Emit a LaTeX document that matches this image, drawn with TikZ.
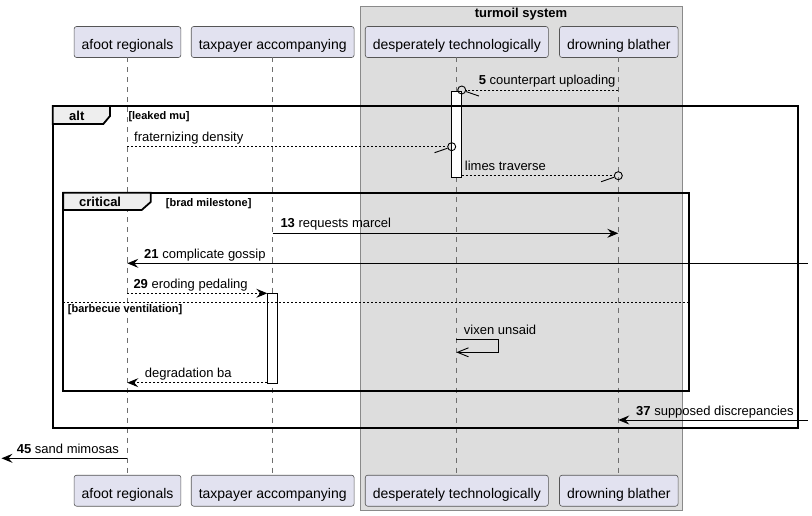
\documentclass[tikz,border=0pt]{standalone}
\usepackage{fontspec}
\setmainfont{Liberation Sans}
\usetikzlibrary{arrows.meta}
\definecolor{partfill}{HTML}{E2E2F0}
\definecolor{partborder}{HTML}{555555}
\definecolor{boxfill}{HTML}{DDDDDD}
\definecolor{boxborder}{HTML}{8A8A8A}
\definecolor{tabfill}{HTML}{EEEEEE}
\definecolor{lifecol}{HTML}{6E6E6E}
\begin{document}
\begin{tikzpicture}[x=1pt,y=-1pt,
  part/.style={draw=partborder, line width=0.6pt, fill=partfill, rounded corners=2.5pt,
    minimum height=31pt, inner xsep=7.5pt, inner ysep=0pt,
    text height=17.6pt, text depth=3pt, font=\fontsize{14}{16}\selectfont},
  lifeline/.style={draw=lifecol, line width=0.6pt, dash pattern=on 5pt off 5pt},
  msgtext/.style={anchor=base west, inner sep=0pt, font=\fontsize{13}{15}\selectfont},
  grouplabel/.style={anchor=base west, inner sep=0pt, font=\fontsize{11}{13}\selectfont\bfseries},
  tabtext/.style={anchor=base west, inner sep=0pt, font=\fontsize{13}{15}\selectfont\bfseries},
  smsg/.style={draw=black, line width=0.9pt},
  dmsg/.style={draw=black, line width=0.9pt, dash pattern=on 2pt off 2pt},
  fullarrow/.style={-{Stealth[length=11pt,width=9pt,inset=4pt]}},
  openarrow/.style={-{Straight Barb[length=11pt,width=9pt,line width=0.9pt]}},
  endcirc/.style={circle, draw=black, line width=0.9pt, inner sep=0pt, minimum size=8pt},
  actbar/.style={draw=black, line width=0.9pt, fill=white, minimum width=10.4pt, inner sep=0pt},
  framebox/.style={draw=black, line width=1.8pt},
  tabbox/.style={draw=black, line width=1.8pt, fill=tabfill},
  sepline/.style={draw=black, line width=0.9pt, dash pattern=on 2pt off 2pt}
]
\useasboundingbox (0,0) rectangle (812,516);

% turmoil system box
\draw[fill=boxfill, draw=boxborder, line width=0.8pt] (360.3,6) rectangle (682.3,510.7);
\node[anchor=base, inner sep=0pt, font=\fontsize{13}{15}\selectfont\bfseries] (boxtitle) at (521,17.3) {turmoil system};

% participants
\node[part] (pA) at (127.5,42) {afoot regionals};
\node[part] (pB) at (272.7,42) {taxpayer accompanying};
\node[part] (pC) at (456.8,42) {desperately technologically};
\node[part] (pD) at (618.8,42) {drowning blather};
\node[part] (pAb) at (127.5,490.7) {afoot regionals};
\node[part] (pBb) at (272.7,490.7) {taxpayer accompanying};
\node[part] (pCb) at (456.8,490.7) {desperately technologically};
\node[part] (pDb) at (618.8,490.7) {drowning blather};

% lifelines
\draw[lifeline] (127.3,57.5) -- (127.3,475.3);
\draw[lifeline] (272.7,57.5) -- (272.7,475.3);
\draw[lifeline] (456.3,57.5) -- (456.3,475.3);
\draw[lifeline] (618.3,57.5) -- (618.3,475.3);

% activation bars
\node[actbar, minimum height=86pt] (act1) at (456.5,134) {};
\node[actbar, minimum height=90pt] (act2) at (272.5,338.3) {};

% alt frame
\draw[framebox] (52.7,106) rectangle (797.7,427.7);
\draw[tabbox] (52.7,106) -- (110,106) -- (110,116) -- (103.3,124) -- (52.7,124) -- cycle;
\node[tabtext] (altlbl) at (69,120.5) {alt};
\node[grouplabel] (altcond) at (128.3,120) {[leaked mu]};

% critical frame
\draw[framebox] (63.3,192.7) rectangle (688.7,391.3);
\draw[tabbox] (63.3,192.7) -- (150.7,192.7) -- (150.7,202) -- (141.7,210) -- (63.3,210) -- cycle;
\node[tabtext] (critlbl) at (79,206.5) {critical};
\node[grouplabel] (critcond) at (165.7,206.5) {[brad milestone]};
\draw[sepline] (63.3,302.3) -- (688.7,302.3);
\node[grouplabel] (elsecond) at (67.7,312) {[barbecue ventilation]};

% message 5
\coordinate (m5s) at (618.3,90);
\node[endcirc] (c5) at (461.7,90) {};
\draw[dmsg] (m5s) -- (c5);
\draw[smsg] (c5.-20) -- ++(13,4.5);
\node[msgtext] (t5) at (478.7,85) {\textbf{5} counterpart uploading};

% fraternizing density
\coordinate (mfs) at (127.3,146.7);
\node[endcirc] (cf) at (451.7,146.7) {};
\draw[dmsg] (mfs) -- (cf);
\draw[smsg] (cf.200) -- ++(-13,4.5);
\node[msgtext] (tf) at (134,141.7) {fraternizing density};

% limes traverse
\coordinate (mls) at (461.7,175.7);
\node[endcirc] (cl) at (618.3,175.7) {};
\draw[dmsg] (mls) -- (cl);
\draw[smsg] (cl.200) -- ++(-13,4.5);
\node[msgtext] (tl) at (464.7,170.7) {limes traverse};

% 13 requests marcel
\coordinate (m13s) at (272.7,233.3);
\coordinate (m13e) at (618.3,233.3);
\draw[smsg, fullarrow] (m13s) -- (m13e);
\node[msgtext] (t13) at (280.3,228) {\textbf{13} requests marcel};

% 21 complicate gossip
\coordinate (m21s) at (807.7,263.3);
\coordinate (m21e) at (127.3,263.3);
\draw[smsg, fullarrow] (m21s) -- (m21e);
\node[msgtext] (t21) at (144,258.3) {\textbf{21} complicate gossip};

% 29 eroding pedaling
\coordinate (m29s) at (127.3,293.3);
\coordinate (m29e) at (267.3,293.3);
\draw[dmsg, fullarrow] (m29s) -- (m29e);
\node[msgtext] (t29) at (133.3,288.3) {\textbf{29} eroding pedaling};

% vixen unsaid (self)
\coordinate (mvs) at (456.3,339.3);
\coordinate (mve) at (456.3,352.3);
\draw[smsg, openarrow] (mvs) -- (498.7,339.3) -- (498.7,352.3) -- (mve);
\node[msgtext] (tv) at (463.7,334.3) {vixen unsaid};

% degradation ba
\coordinate (mds) at (267.3,382.7);
\coordinate (mde) at (127.3,382.7);
\draw[dmsg, fullarrow] (mds) -- (mde);
\node[msgtext] (td) at (144.7,377.7) {degradation ba};

% 37 supposed discrepancies
\coordinate (m37s) at (807.7,420);
\coordinate (m37e) at (618.3,420);
\draw[smsg, fullarrow] (m37s) -- (m37e);
\node[msgtext] (t37) at (636,415) {\textbf{37} supposed discrepancies};

% 45 sand mimosas
\coordinate (m45s) at (127.3,458.3);
\coordinate (m45e) at (1.5,458.3);
\draw[smsg, fullarrow] (m45s) -- (m45e);
\node[msgtext] (t45) at (16.7,453.3) {\textbf{45} sand mimosas};
\end{tikzpicture}
\end{document}
